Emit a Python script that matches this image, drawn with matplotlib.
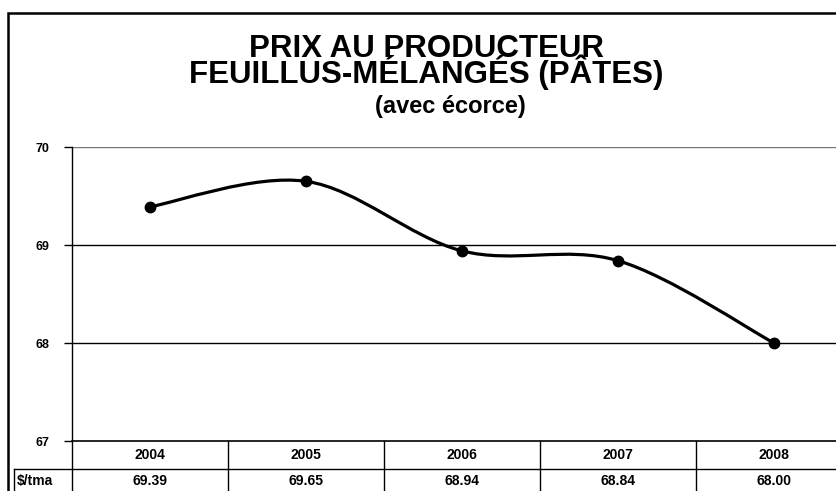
import matplotlib
matplotlib.use("Agg")
import matplotlib.pyplot as plt
from matplotlib.path import Path
from matplotlib.patches import PathPatch, Rectangle
import numpy as np

plt.rcParams['font.family'] = ['Liberation Sans', 'DejaVu Sans']

years = ["2004", "2005", "2006", "2007", "2008"]
prices = [69.39, 69.65, 68.94, 68.84, 68.00]
value_labels = ["69.39", "69.65", "68.94", "68.84", "68.00"]
row_label = "$/tma"
yticks = [67, 68, 69, 70]
title1 = "PRIX AU PRODUCTEUR\nFEUILLUS-MÉLANGÉS (PÂTES)"
title2 = "(avec écorce)"

W, H = 836, 491
fig = plt.figure(figsize=(W/100, H/100), dpi=100)

def fx(px):
    return px / W
def fy(py):
    return 1 - py / H

ax_left, ax_right, ax_top, ax_bottom = 72, 852, 147, 441
ax = fig.add_axes([fx(ax_left), fy(ax_bottom), (ax_right-ax_left)/W, (ax_bottom-ax_top)/H])

x = np.arange(len(prices))
ax.set_xlim(-0.5, len(prices)-0.5)
ax.set_ylim(67, 70)
ax.set_yticks(yticks)
ax.set_yticklabels([str(v) for v in yticks], fontsize=9, fontweight='bold')
ax.tick_params(axis='y', length=6, width=1, pad=10, direction='out')
ax.set_xticks([])
for s in ['top', 'right']:
    ax.spines[s].set_visible(False)
ax.spines['left'].set_linewidth(1)
ax.spines['bottom'].set_linewidth(1.2)
for v in yticks[1:]:
    ax.axhline(v, color='black' if v < 70 else '#777777', lw=1, zorder=1)

# smoothed line (Catmull-Rom bezier through the data points)
pts = np.column_stack([x, prices]).astype(float)
verts = [tuple(pts[0])]
codes = [Path.MOVETO]
n = len(pts)
for i in range(n-1):
    p0 = pts[i-1] if i > 0 else pts[i]
    p1 = pts[i]
    p2 = pts[i+1]
    p3 = pts[i+2] if i+2 < n else pts[i+1]
    c1 = p1 + (p2 - p0) / 6.0
    c2 = p2 - (p3 - p1) / 6.0
    verts += [tuple(c1), tuple(c2), tuple(p2)]
    codes += [Path.CURVE4]*3
ax.add_patch(PathPatch(Path(verts, codes), fill=False, lw=2.3, color='black', zorder=3))
ax.plot(x, prices, 'o', color='black', ms=7.5, zorder=4)

# data table under the axes
trans = ax.get_xaxis_transform()
ph = ax_bottom - ax_top
r1 = -28/ph
r2 = -56/ph
for i in range(len(years)+1):
    ax.plot([i-0.5, i-0.5], [0, r2], transform=trans, color='black', lw=1, clip_on=False)
ax.plot([-0.5, len(years)-0.5], [r1, r1], transform=trans, color='black', lw=1, clip_on=False)
for i, (yr, val) in enumerate(zip(years, value_labels)):
    ax.text(i, r1/2, yr, transform=trans, ha='center', va='center', fontsize=10, fontweight='bold')
    ax.text(i, (r1+r2)/2 + 0.006, val, transform=trans, ha='center', va='center', fontsize=10, fontweight='bold')

# header cell for the value row
fig.add_artist(plt.Line2D([fx(14), fx(72)], [fy(469), fy(469)], color='black', lw=1))
fig.add_artist(plt.Line2D([fx(14), fx(14)], [fy(469), fy(500)], color='black', lw=1))
fig.text(fx(17), fy(481), row_label, ha='left', va='center', fontsize=10, fontweight='bold')

# outer frame
fig.add_artist(Rectangle((fx(8), -0.2), 1.5, fy(13) + 0.2, transform=fig.transFigure,
                         fill=False, ec='black', lw=1.8))

# titles
fig.text(fx(426), fy(83), title1, ha='center', va='baseline', fontsize=22.5, fontweight='bold',
         linespacing=0.65, multialignment='center')
fig.text(fx(450), fy(113), title2, ha='center', va='baseline', fontsize=17, fontweight='bold')

fig.savefig("out.png", dpi=100)
